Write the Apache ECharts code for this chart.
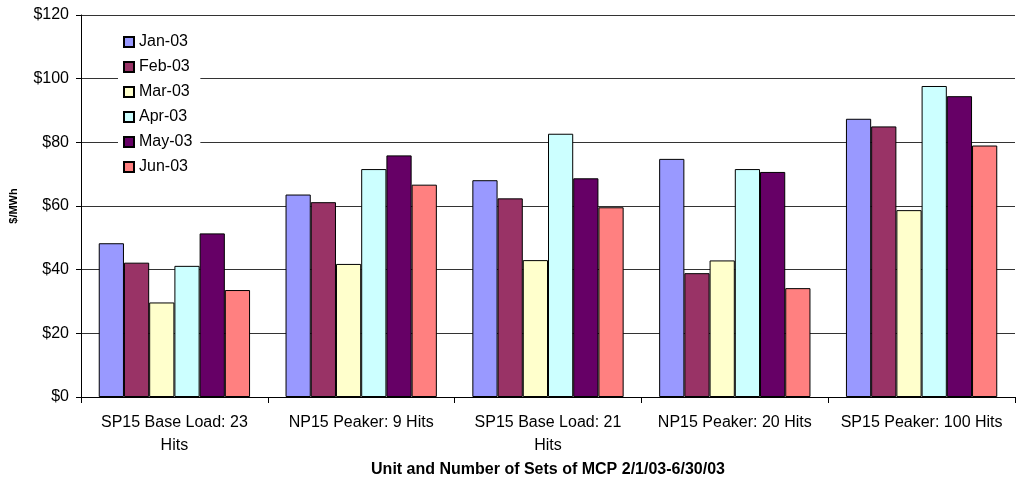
<!DOCTYPE html>
<html>
<head>
<meta charset="utf-8">
<script src="https://cdn.jsdelivr.net/npm/echarts@6/dist/echarts.min.js"></script>
<style>
  html, body { margin: 0; padding: 0; background: #fff; }
  #chart { width: 1016px; height: 481px; }
</style>
</head>
<body>
<div id="chart"></div>
<script>
// categories (units)
const units = [
  'SP15 Base Load: 23\nHits',
  'NP15 Peaker: 9 Hits',
  'SP15 Base Load: 21\nHits',
  'NP15 Peaker: 20 Hits',
  'SP15 Peaker: 100 Hits'
];
const months = ['Jan-03', 'Feb-03', 'Mar-03', 'Apr-03', 'May-03', 'Jun-03'];
const monthColors = ['#9999FF', '#993366', '#FFFFCC', '#CCFFFF', '#660066', '#FF8080'];

// $/MWh per month, one value per unit
const jan03 = [48.3, 63.6, 68.1, 74.8, 87.4];
const feb03 = [42.2, 61.2, 62.4, 38.9, 85.0];
const mar03 = [29.7, 41.8, 43.0, 42.9, 58.7];
const apr03 = [41.2, 71.6, 82.7, 71.6, 97.7];
const may03 = [51.4, 75.9, 68.7, 70.7, 94.5];
const jun03 = [33.6, 66.7, 59.6, 34.2, 79.0];
const monthData = [jan03, feb03, mar03, apr03, may03, jun03];

const font = 'Liberation Sans, Arial, sans-serif';

const chart = echarts.init(document.getElementById('chart'));

const series = months.map((m, i) => ({
  name: m,
  type: 'bar',
  data: monthData[i],
  barGap: '0%',
  barCategoryGap: '19%',
  itemStyle: {
    color: monthColors[i],
    borderColor: '#000',
    borderWidth: 1
  },
  emphasis: { disabled: true }
}));

chart.setOption({
  animation: false,
  backgroundColor: '#fff',
  textStyle: { fontFamily: font },
  grid: { left: 81, right: 1, top: 15, bottom: 84, containLabel: false, outerBoundsMode: 'none' },
  legend: {
    orient: 'vertical',
    left: 118,
    top: 30,
    backgroundColor: '#fff',
    padding: [4, 8, 4, 5],
    itemWidth: 10,
    itemHeight: 10,
    itemGap: 9,
    itemTextGap: 5,
    icon: 'rect',
    data: months,
    textStyle: { fontFamily: font, fontSize: 16, color: '#000' },
    selectedMode: false
  },
  xAxis: {
    type: 'category',
    data: units,
    name: 'Unit and Number of Sets of MCP 2/1/03-6/30/03',
    nameLocation: 'middle',
    nameGap: 62,
    nameTextStyle: { fontFamily: font, fontSize: 16, fontWeight: 'bold', color: '#000' },
    axisLine: { lineStyle: { color: '#000', width: 1 } },
    axisTick: { show: true, length: 6, lineStyle: { color: '#000' } },
    axisLabel: {
      interval: 0,
      color: '#000',
      fontSize: 16,
      fontFamily: font,
      lineHeight: 23,
      margin: 14
    }
  },
  yAxis: {
    type: 'value',
    min: 0,
    max: 120,
    interval: 20,
    name: '$/MWh',
    nameLocation: 'middle',
    nameGap: 62,
    nameRotate: 90,
    nameTextStyle: { fontFamily: font, fontSize: 11, fontWeight: 'bold', color: '#000' },
    axisLine: { show: true, lineStyle: { color: '#000', width: 1 } },
    axisTick: { show: true, length: 5, lineStyle: { color: '#000' } },
    axisLabel: {
      color: '#000',
      fontSize: 16,
      fontFamily: font,
      margin: 12,
      formatter: v => '$' + v
    },
    splitLine: { show: true, lineStyle: { color: '#333', width: 1 } }
  },
  series: series
});
</script>
</body>
</html>
